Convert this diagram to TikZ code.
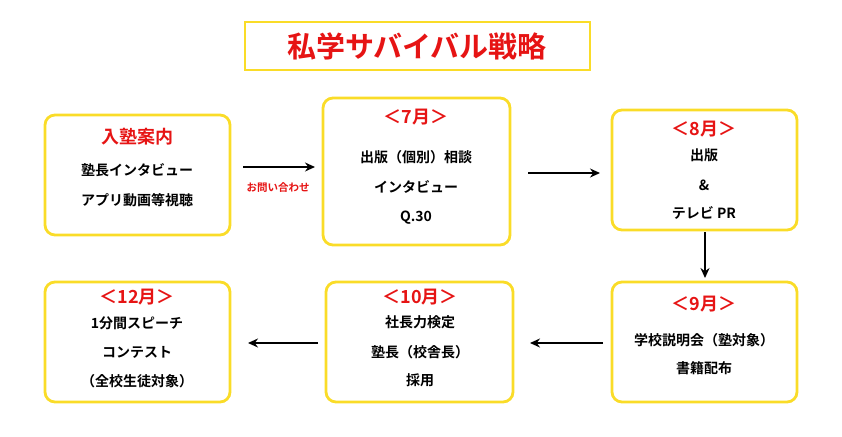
\documentclass[tikz,border=0pt]{standalone}
\usepackage{fontspec}
\setmainfont{Noto Sans CJK JP}[BoldFont={Noto Sans CJK JP Bold}]
\usetikzlibrary{arrows.meta}
\definecolor{boxyellow}{RGB}{250,220,40}
\definecolor{titlered}{RGB}{230,20,20}
\tikzset{
  stagebox/.style={draw=boxyellow, line width=2.8pt, rounded corners=10pt},
  redtext/.style={text=titlered, font=\bfseries\fontsize{18}{18}\selectfont},
  bodytext/.style={font=\bfseries\fontsize{14}{14}\selectfont},
  flow/.style={-{Stealth[length=10pt,width=9pt]}, line width=1.5pt}
}
\begin{document}
\begin{tikzpicture}[x=1pt,y=-1pt]
      \useasboundingbox (0,0) rectangle (842,436);

      % Title
      \draw[draw=boxyellow, line width=2.8pt] (245,22) rectangle (590,70);
      \node[text=titlered, font=\bfseries\fontsize{29}{29}\selectfont] (title) at (417,46) {私学サバイバル戦略};

      % Boxes
      \draw[stagebox] (45,115) rectangle (230,235);
      \draw[stagebox] (323,98) rectangle (510,245);
      \draw[stagebox] (612,110) rectangle (797,230);
      \draw[stagebox] (45,282) rectangle (230,402);
      \draw[stagebox] (326,282) rectangle (513,402);
      \draw[stagebox] (612,282) rectangle (797,402);

      % Box texts
      \node[redtext] (a0) at (137,137) {入塾案内};
      \node[bodytext] (a1) at (137,170) {塾長インタビュー};
      \node[bodytext] (a2) at (137,200) {アプリ動画等視聴};

      \node[redtext] (b0) at (416,117) {＜7月＞};
      \node[bodytext] (b1) at (416,157) {出版（個別）相談};
      \node[bodytext] (b2) at (416,187) {インタビュー};
      \node[bodytext] (b3) at (416,218) {Q.30};

      \node[redtext] (c0) at (704,129) {＜8月＞};
      \node[bodytext] (c1) at (704,155) {出版};
      \node[bodytext] (c2) at (704,185) {\&};
      \node[bodytext] (c3) at (704,213) {テレビ PR};

      \node[redtext] (d0) at (704,304) {＜9月＞};
      \node[bodytext] (d1) at (704,340) {学校説明会（塾対象）};
      \node[bodytext] (d2) at (704,368) {書籍配布};

      \node[redtext] (e0) at (420,297) {＜10月＞};
      \node[bodytext] (e1) at (420,322) {社長力検定};
      \node[bodytext] (e2) at (420,352) {塾長（校舎長）};
      \node[bodytext] (e3) at (420,380) {採用};

      \node[redtext] (f0) at (137,297) {＜12月＞};
      \node[bodytext] (f1) at (137,323) {1分間スピーチ};
      \node[bodytext] (f2) at (137,352) {コンテスト};
      \node[bodytext] (f3) at (137,381) {（全校生徒対象）};

      % Arrows
      \coordinate (p1) at (243,167); \coordinate (q1) at (315,167);
      \coordinate (p2) at (528,173); \coordinate (q2) at (600,173);
      \coordinate (p3) at (705,232); \coordinate (q3) at (705,278);
      \coordinate (p4) at (603,343); \coordinate (q4) at (530,343);
      \coordinate (p5) at (318,343); \coordinate (q5) at (248,343);
      \draw[flow] (p1) -- (q1);
      \draw[flow] (p2) -- (q2);
      \draw[flow] (p3) -- (q3);
      \draw[flow] (p4) -- (q4);
      \draw[flow] (p5) -- (q5);
      \node[text=titlered, font=\bfseries\fontsize{10.5}{10.5}\selectfont] (ask) at (278,188) {お問い合わせ};

\end{tikzpicture}
\end{document}
